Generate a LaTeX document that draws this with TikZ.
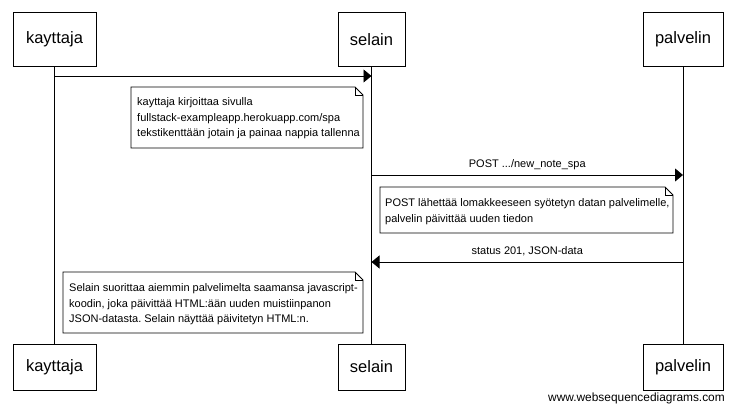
\documentclass[tikz,border=0pt]{standalone}
\usepackage{fontspec}
\setmainfont{Liberation Sans}
\usetikzlibrary{arrows.meta}
\frenchspacing
\begin{document}
\begin{tikzpicture}[x=1pt,y=-1pt,
  actor/.style={draw=black, fill=white, line width=0.9pt, inner sep=0pt, font=\fontsize{16.5}{19}\selectfont},
  life/.style={draw=black, line width=0.9pt},
  msg/.style={draw=black, line width=0.9pt, -{Triangle[length=8pt,width=13pt]}},
  notebox/.style={draw=black, fill=white, line width=0.8pt, line join=miter},
  notetext/.style={anchor=west, inner sep=0pt, align=left, font=\fontsize{11}{15.5}\selectfont},
  msglabel/.style={inner sep=0pt, font=\fontsize{11}{13}\selectfont},
]
\useasboundingbox (0,0) rectangle (734,411);

% participants
\node[actor, minimum width=83pt, minimum height=54pt] (kt) at (54.5,39.5) {kayttaja};
\node[actor, minimum width=67pt, minimum height=54pt] (st) at (371.5,39.5) {selain};
\node[actor, minimum width=80pt, minimum height=54pt] (pt) at (683,39.5) {palvelin};
\node[actor, minimum width=83pt, minimum height=46pt] (kb) at (54.5,367) {kayttaja};
\node[actor, minimum width=67pt, minimum height=46pt] (sb) at (371.5,367) {selain};
\node[actor, minimum width=80pt, minimum height=46pt] (pb) at (683,367) {palvelin};

% lifelines
\draw[life] (kt.south) -- (kb.north);
\draw[life] (st.south) -- (sb.north);
\draw[life] (pt.south) -- (pb.north);

% message points
\coordinate (m1a) at (kt.south |- 0,76);
\coordinate (m1b) at (st.south |- 0,76);
\coordinate (m2a) at (st.south |- 0,175);
\coordinate (m2b) at (pt.south |- 0,175);
\coordinate (m3a) at (pt.south |- 0,262);
\coordinate (m3b) at (st.south |- 0,262);

\draw[msg] (m1a) -- (m1b);
\draw[msg] (m2a) -- (m2b) node[msglabel, midway, above=5pt] {POST .../new\_note\_spa};
\draw[msg] (m3a) -- (m3b) node[msglabel, midway, above=6pt] {status 201, JSON-data};

% note 1
\draw[notebox] (131,87) -- (355,87) -- (363,95) -- (363,148) -- (131,148) -- cycle;
\draw[line width=0.6pt] (355,87) -- (355,95) -- (363,95);
\node[notetext] (n1) at (137,118.5) {kayttaja kirjoittaa sivulla\\fullstack-exampleapp.herokuapp.com/spa\\tekstikenttään jotain ja painaa nappia tallenna};

% note 2
\draw[notebox] (380,187) -- (665,187) -- (673,195) -- (673,233) -- (380,233) -- cycle;
\draw[line width=0.6pt] (665,187) -- (665,195) -- (673,195);
\node[notetext] (n2) at (385,211.5) {POST lähettää lomakkeeseen syötetyn datan palvelimelle,\\palvelin päivittää uuden tiedon};

% note 3
\draw[notebox] (63,272) -- (355,272) -- (363,280) -- (363,333) -- (63,333) -- cycle;
\draw[line width=0.6pt] (355,272) -- (355,280) -- (363,280);
\node[notetext] (n3) at (69,304.5) {Selain suorittaa aiemmin palvelimelta saamansa javascript-\\koodin, joka päivittää HTML:ään uuden muistiinpanon\\JSON-datasta. Selain näyttää päivitetyn HTML:n.};

\node[anchor=east, inner sep=0pt, font=\fontsize{11.9}{14}\selectfont] (www) at (725,398) {www.websequencediagrams.com};
\end{tikzpicture}
\end{document}
